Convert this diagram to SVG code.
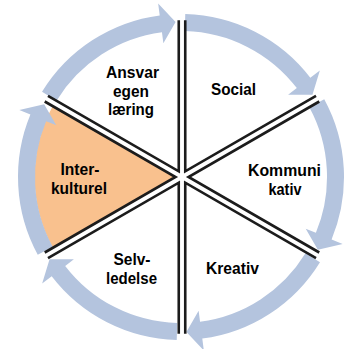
<svg xmlns="http://www.w3.org/2000/svg" width="347" height="349" viewBox="0 0 347 349">
<style>
.ring{fill:#b4c4de}
.edge{fill:none;stroke:#1c1c1c;stroke-width:2.6;stroke-linejoin:miter;stroke-linecap:butt}
.orange{fill:#f9c18e}
.lbl{font-family:"Liberation Sans",Arial,sans-serif;font-weight:bold;font-size:16px;fill:#000;text-anchor:middle}
</style>
<rect width="347" height="349" fill="#ffffff"/>
<g id="interkulturel-fill">
<path class="orange" d="M175.5,177 L44.73,252.5 L52.26,246.9 A146.5,146.5 0 0 1 52.26,107.1 L44.73,101.5 Z"/>
</g>
<g id="connectors">
<path class="ring" d="M42.02,91.83 A163,163 0 0 1 159.72,15.4 L158.16,3.5 L175.59,22.09 L163.38,43.16 L161.94,32.25 A146,146 0 0 0 56.51,100.71 Z"/>
<path class="ring" d="M185.27,14.06 A163,163 0 0 1 310.32,77.77 L319.84,70.47 L312.45,94.86 L288.1,94.82 L296.83,88.12 A146,146 0 0 0 184.82,31.05 Z"/>
<path class="ring" d="M324.25,99.22 A163,163 0 0 1 331.59,239.38 L342.68,243.97 L317.86,249.77 L305.72,228.66 L315.89,232.87 A146,146 0 0 0 309.31,107.33 Z"/>
<path class="ring" d="M319.98,262.17 A163,163 0 0 1 202.28,338.6 L203.84,350.5 L186.41,331.91 L198.62,310.84 L200.06,321.75 A146,146 0 0 0 305.49,253.29 Z"/>
<path class="ring" d="M176.73,339.94 A163,163 0 0 1 51.68,276.23 L42.16,283.53 L49.55,259.14 L73.9,259.18 L65.17,265.88 A146,146 0 0 0 177.18,322.95 Z"/>
<path class="ring" d="M37.75,254.78 A163,163 0 0 1 30.41,114.62 L19.32,110.03 L44.14,104.23 L56.28,125.34 L46.11,121.13 A146,146 0 0 0 52.69,246.67 Z"/>
</g>
<g id="node-kommunikativ">
<polyline class="edge" points="319.27,101.5 188.5,177 319.27,252.5"/>
<text class="lbl" x="284.5" y="176" textLength="73" lengthAdjust="spacingAndGlyphs">Kommuni</text>
<text class="lbl" x="285" y="194.5" textLength="33" lengthAdjust="spacingAndGlyphs">kativ</text>
</g>
<g id="node-kreativ">
<polyline class="edge" points="316.02,258.13 185.25,182.63 185.25,333.63"/>
<text class="lbl" x="232.5" y="274" textLength="53" lengthAdjust="spacingAndGlyphs">Kreativ</text>
</g>
<g id="node-selvledelse">
<polyline class="edge" points="178.75,333.63 178.75,182.63 47.98,258.13"/>
<text class="lbl" x="132" y="265" textLength="37" lengthAdjust="spacingAndGlyphs">Selv-</text>
<text class="lbl" x="131.5" y="283.5" textLength="51" lengthAdjust="spacingAndGlyphs">ledelse</text>
</g>
<g id="node-interkulturel">
<polyline class="edge" points="44.73,252.5 175.5,177 44.73,101.5"/>
<text class="lbl" x="80" y="175" textLength="39" lengthAdjust="spacingAndGlyphs">Inter-</text>
<text class="lbl" x="79" y="193.5" textLength="56" lengthAdjust="spacingAndGlyphs">kulturel</text>
</g>
<g id="node-ansvar">
<polyline class="edge" points="47.98,95.87 178.75,171.37 178.75,20.37"/>
<text class="lbl" x="132.5" y="78" textLength="53" lengthAdjust="spacingAndGlyphs">Ansvar</text>
<text class="lbl" x="131" y="96.5" textLength="36" lengthAdjust="spacingAndGlyphs">egen</text>
<text class="lbl" x="131" y="115" textLength="46" lengthAdjust="spacingAndGlyphs">læring</text>
</g>
<g id="node-social">
<polyline class="edge" points="185.25,20.37 185.25,171.37 316.02,95.87"/>
<text class="lbl" x="233.5" y="95" textLength="45" lengthAdjust="spacingAndGlyphs">Social</text>
</g>
</svg>
